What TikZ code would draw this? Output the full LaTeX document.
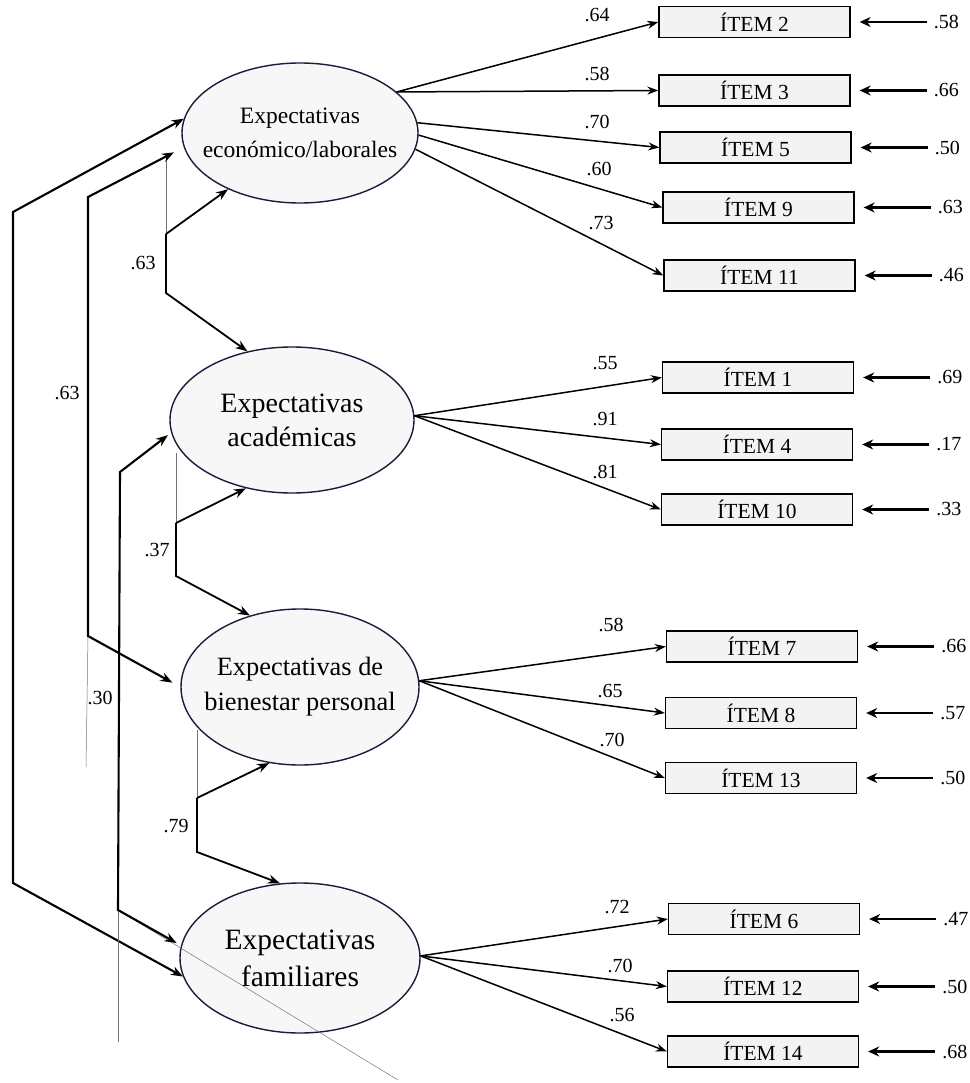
\documentclass[tikz,border=0pt]{standalone}
\usepackage{fontspec}
\setmainfont{Liberation Serif}
\usetikzlibrary{shapes.geometric,arrows.meta}

\definecolor{latline}{HTML}{1B1B3A}
\definecolor{latfill}{HTML}{F7F7F8}
\definecolor{obsfill}{HTML}{F3F3F3}

\begin{document}
\begin{tikzpicture}[x=1pt,y=-1pt,
    latent/.style={ellipse,draw=latline,line width=1.4pt,fill=latfill,align=center,inner xsep=-20pt,inner ysep=0pt},
    obs/.style={draw,line width=1.3pt,fill=obsfill,minimum width=191pt,minimum height=31pt,inner sep=0pt,font=\fontsize{21.5}{24}\selectfont},
    num/.style={inner sep=1pt,font=\fontsize{20}{22}\selectfont},
    load/.style={line width=1.5pt,-{Stealth[length=11pt,width=8pt]}},
    resid/.style={line width=2.4pt,-{Stealth[length=11pt,width=10pt]},shorten <=6pt,shorten >=9pt},
    corr/.style={line width=1.8pt,>={Stealth[length=12pt,width=9pt]}},
    faint/.style={line width=0.5pt,black!55}]
    \useasboundingbox (0,0) rectangle (969,1083);
    \node[latent,minimum width=236pt,minimum height=140pt,font=\fontsize{23.5}{34}\selectfont] (econ) at (300,133) {Expectativas\\económico/laborales};
    \node[latent,minimum width=244pt,minimum height=146pt,font=\fontsize{28}{34}\selectfont] (acad) at (292,420) {Expectativas\\académicas};
    \node[latent,minimum width=238pt,minimum height=156pt,font=\fontsize{26.4}{35}\selectfont] (bien) at (300,687) {Expectativas de\\bienestar personal};
    \node[latent,minimum width=240pt,minimum height=150pt,font=\fontsize{29.5}{37}\selectfont] (fam) at (300,958) {Expectativas\\familiares};
    \foreach \n/\x/\y in {2/754.5/22,3/754.5/90.5,5/755.5/147.5,9/758.5/207.5,11/759.5/275.5,1/758/377.5,4/757/444.5,10/757/509.5,7/762/646.5,8/761/713,13/761/778,6/764/919,12/763/986.5,14/763/1051.5}
        \node[obs] (it\n) at (\x,\y) {ÍTEM \n};
    \foreach \n/\res in {2/.58,3/.66,5/.50,9/.63,11/.46,1/.69,4/.17,10/.33,7/.66,8/.57,13/.50,6/.47,12/.50,14/.68}{
        \node[num,anchor=west] (e\n) at ([xshift=82pt]it\n.east) {\res};
        \draw[resid] (e\n) -- (it\n);
    }
    \foreach \a/\n in {econ.23/2,econ.23/3,econ.5/5,econ.-1/9,econ.-8/11,acad.2/1,acad.2/4,acad.2/10,bien.3/7,bien.3/8,bien.3/13,fam.1/6,fam.1/12,fam.1/14}
        \draw[load] (\a) -- (it\n.west);
    \foreach \n/\x/\y/\val in {2/597/15/.64,3/597/74/.58,5/597/122/.70,9/599/169/.60,11/601/223/.73,1/605/363/.55,4/605/419/.91,10/605/472/.81,7/611/625/.58,8/610/691/.65,13/612/740/.70,6/617/907/.72,12/620/966/.70,14/622/1015/.56}
        \node[num] (w\n) at (\x,\y) {\val};
    \coordinate (a1) at (166,160);
    \coordinate (a2) at (166,234);
    \coordinate (a3) at (166,293);
    \draw[faint] (a1) -- (a2);
    \draw[corr,->] (a2) -- (econ.218);
    \draw[corr,->] (a2) -- (a3) -- (acad.123);
    \node[num] (r1) at (143,263) {.63};
    \coordinate (a4) at (176,453);
    \coordinate (a5) at (176,523);
    \coordinate (a6) at (176,576);
    \draw[faint] (a4) -- (a5);
    \draw[corr,->] (a5) -- (acad.236);
    \draw[corr,->] (a5) -- (a6) -- (bien.125);
    \node[num] (r2) at (157,550) {.37};
    \coordinate (a7) at (197,730);
    \coordinate (a8) at (197,798);
    \coordinate (a9) at (197,852);
    \draw[faint] (a7) -- (a8);
    \draw[corr,->] (a8) -- (bien.248);
    \draw[corr,->] (a8) -- (a9) -- (fam.105);
    \node[num] (r3) at (176,826) {.79};
    \coordinate (b1) at (13,212);
    \coordinate (b2) at (13,883);
    \draw[corr,<->,line width=2.1pt] (econ.173) -- (b1) -- (b2) -- (fam.189);
    \node[num] (r4) at (67,393) {.63};
    \coordinate (c1) at (88,197);
    \coordinate (c2) at (88,636);
    \coordinate (c3) at (86,767);
    \draw[faint] (c2) -- (c3);
    \draw[corr,<->,line width=2.1pt,shorten <=11pt,shorten >=9pt] (econ.187) -- (c1) -- (c2) -- (bien.180);
    \node[num] (r5) at (100,698) {.30};
    \coordinate (d1) at (120,472);
    \coordinate (d2) at (118,910);
    \coordinate (d3) at (118,1042);
    \coordinate (d4) at (398,1080);
    \draw[faint] (d2) -- (d3);
    \draw[faint] (d2) -- (d4);
    \draw[corr,<->,line width=2.1pt,shorten <=4pt,shorten >=5pt] (acad.186) -- (d1) -- (d2) -- (fam.174);
\end{tikzpicture}
\end{document}
